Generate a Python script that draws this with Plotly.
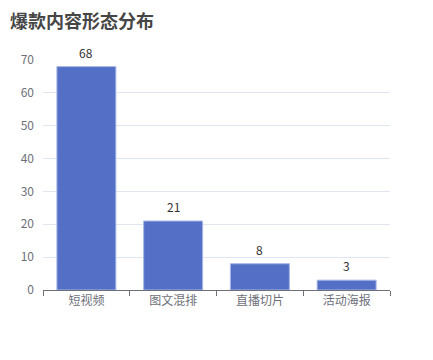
import plotly.graph_objects as go

categories = ["短视频", "图文混排", "直播切片", "活动海报"]
values = [68, 21, 8, 3]
y_ticks = [0, 10, 20, 30, 40, 50, 60, 70]

fig = go.Figure()
fig.add_trace(go.Bar(
    x=categories, y=values,
    marker=dict(color="#5470c6", line=dict(color="#a9b8e6", width=1)),
    width=0.68, cliponaxis=False,
))
for c, v in zip(categories, values):
    fig.add_annotation(x=c, y=v, text=str(v), showarrow=False, yanchor="bottom",
                       yshift=4, font=dict(size=12, color="#333333"))
fig.add_annotation(
    text="<b>爆款内容形态分布</b>", xref="paper", yref="paper", x=0, y=1,
    xanchor="left", yanchor="top", xshift=-34, yshift=54, showarrow=False,
    font=dict(size=18, color="#464646"), borderpad=0,
)
fig.update_layout(
    width=433, height=360,
    margin=dict(l=35, r=51, t=52, b=78),
    paper_bgcolor="white", plot_bgcolor="white",
    font=dict(family="Noto Sans CJK SC, sans-serif", size=12, color="#6e7079"),
    showlegend=False,
)
fig.update_xaxes(showline=True, linecolor="#6e7079", linewidth=1, ticks="outside",
                 ticklen=5, tickcolor="#6e7079", tickson="boundaries", showgrid=False,
                 tickfont=dict(size=12, color="#6e7079"))
fig.update_yaxes(range=[0, 70], tickvals=y_ticks, showgrid=True, gridcolor="#e0e6f1",
                 zeroline=False, showline=False, ticks="", ticklabelstandoff=8,
                 tickfont=dict(size=12, color="#6e7079"))
fig.write_html("out.html")
